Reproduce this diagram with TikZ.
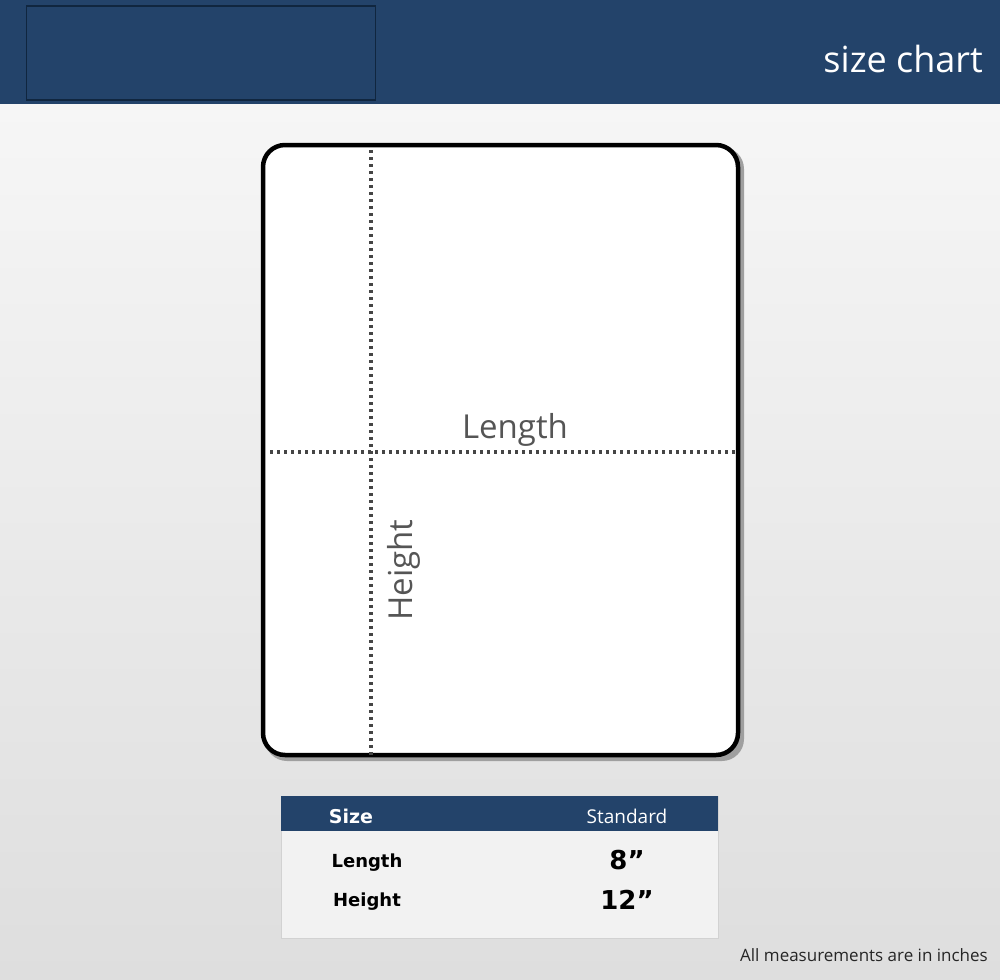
\documentclass[tikz,border=0pt]{standalone}
\usepackage{fontspec}
\setmainfont{Open Sans}
\newfontfamily\tablefont{DejaVu Sans}
\definecolor{navy}{HTML}{23436A}
\definecolor{navyedge}{HTML}{10263F}
\definecolor{dotgray}{HTML}{454545}
\definecolor{labelgray}{HTML}{555555}
\definecolor{bgtop}{HTML}{F6F6F6}
\definecolor{bgbot}{HTML}{DEDEDE}
\definecolor{tablebg}{HTML}{F2F2F2}
\tikzset{
  dotline/.style={draw=dotgray, line width=3.2pt, dash pattern=on 3.2pt off 3.8pt},
  dimlabel/.style={text=labelgray, font=\fontsize{33}{38}\selectfont, inner sep=0pt},
  cell/.style={font=\tablefont\bfseries\fontsize{18}{22}\selectfont, text=black, inner sep=0pt},
  valcell/.style={font=\tablefont\bfseries\fontsize{26}{30}\selectfont, text=black, inner sep=0pt},
  headcell/.style={font=\fontsize{19}{22}\selectfont, text=white, inner sep=0pt}
}
\begin{document}
\begin{tikzpicture}[x=1pt,y=-1pt]
\useasboundingbox (0,0) rectangle (1000,979);
% background
\shade[top color=bgtop, bottom color=bgbot] (0,103) rectangle (1000,979);
% header band
\fill[navy] (0,0) rectangle (1000,104);
\node[draw=navyedge, line width=1.2pt, fill=navy, minimum width=349pt, minimum height=94pt, anchor=north west, inner sep=0pt] (logo) at (25.5,5.5) {};
\node[anchor=base east, text=white, font=\fontsize{36}{40}\selectfont, inner sep=0pt] (title) at (983,73) {size chart};
% blanket shadow
\fill[gray!75, rounded corners=22pt] (265,147) rectangle (744,761);
% blanket
\node[draw=black, line width=4.5pt, fill=white, rounded corners=22pt, minimum width=475pt, minimum height=610pt, inner sep=0pt] (blanket) at (500.5,450) {};
% dotted guides
\coordinate (vt) at (371,150);
\coordinate (vb) at (371,756);
\coordinate (hl) at (270,452);
\coordinate (hr) at (736,452);
\draw[dotline] (vt) -- (vb);
\draw[dotline] (hl) -- (hr);
\node[dimlabel] (lenlabel) at (515,430) {Length};
\node[dimlabel, rotate=90] (hgtlabel) at (404,570) {Height};
% table
\node[draw=gray!35, line width=1pt, fill=tablebg, minimum width=437pt, minimum height=142pt, anchor=north west, inner sep=0pt] (table) at (281,796) {};
\node[fill=navy, minimum width=437pt, minimum height=35pt, anchor=north west, inner sep=0pt] (thead) at (281,796) {};
\node[cell, text=white, font=\tablefont\bfseries\fontsize{19}{22}\selectfont] (hsize) at (351,816) {Size};
\node[headcell] (hstd) at (627,816) {Standard};
\node[cell] (rlen) at (367,863) {Length};
\node[valcell] (vlen) at (627,860) {8”};
\node[cell] (rhgt) at (367,902) {Height};
\node[valcell] (vhgt) at (627,900) {12”};
% note
\node[anchor=base east, text=black!85, font=\fontsize{17}{20}\selectfont, inner sep=0pt] (note) at (988,961) {All measurements are in inches};
\end{tikzpicture}
\end{document}
